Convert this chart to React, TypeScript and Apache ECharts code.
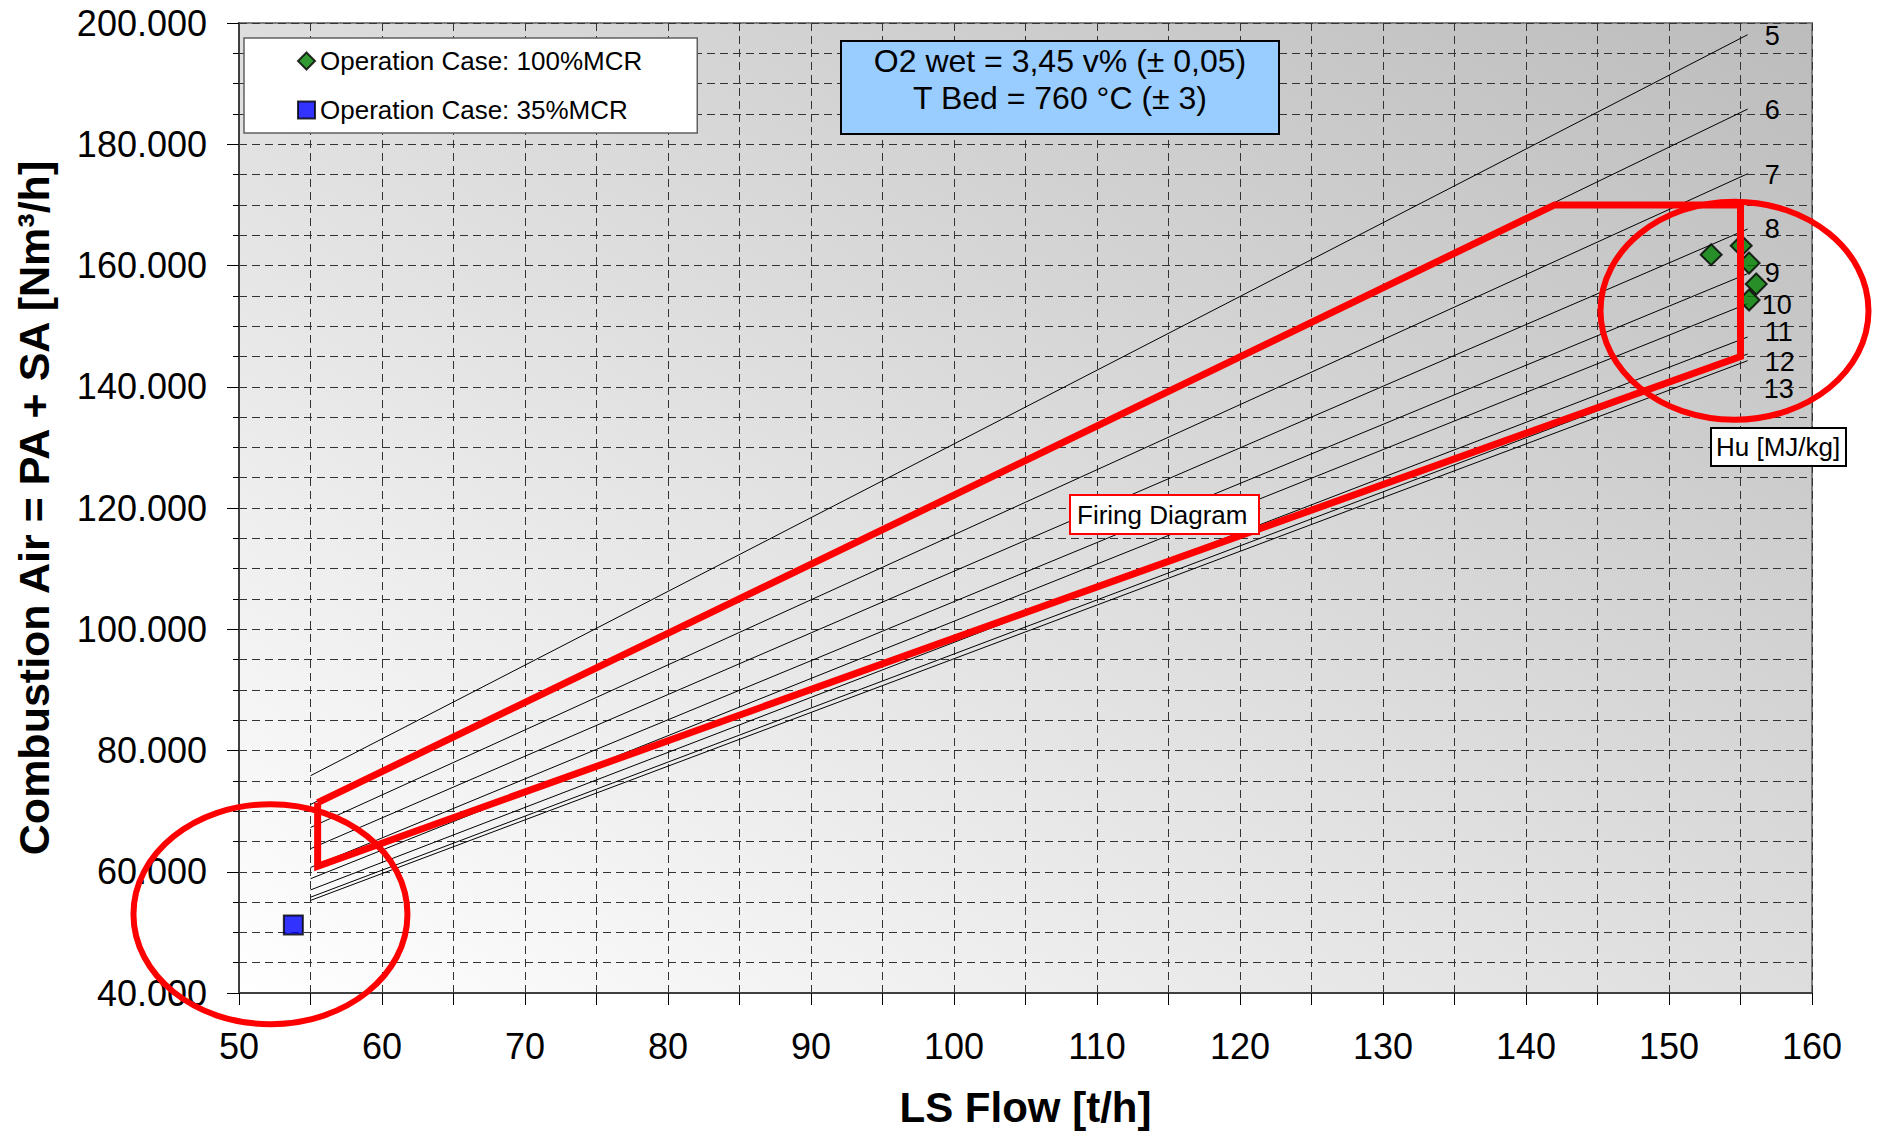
import React, { useEffect, useRef } from 'react';
import * as echarts from 'echarts';

// ---- data ----
const huLabels = ['5', '6', '7', '8', '9', '10', '11', '12', '13'];
const huStartX = 55;
const huEndX = 155.5;
const huStartY = [75840, 71100, 67300, 63800, 60700, 58850, 57000, 55800, 55270];
const huEndY = [198070, 185800, 175140, 166020, 158650, 153700, 148200, 145400, 144300];

const firingX = [55.5, 142, 155, 155, 55.5, 55.5];
const firingY = [71400, 170000, 170000, 145000, 60900, 71400];

const case100X = [152.95, 155.05, 155.6, 156.1, 155.6];
const case100Y = [161780, 163270, 160410, 156950, 154310];
const case35X = [53.8];
const case35Y = [51230];

const circleCentersX = [154.58, 52.2];
const circleCentersY = [152545, 53000];

const name100 = 'Operation Case: 100%MCR';
const name35 = 'Operation Case: 35%MCR';

// ---- styles ----
const FONT = 'Liberation Sans, Arial, sans-serif';
const huLabelOffset: number[][] = [[0, 1], [0, 1], [0, 1], [0, 0], [0, -1], [-3, 1], [0, -5], [0, 8], [-1, 28]];
const dash = [8, 5];
const gridColor = '#333333';

export default function App() {
  const ref = useRef<HTMLDivElement>(null);
  useEffect(() => {
    if (!ref.current) return;
    const chart = echarts.init(ref.current, undefined, { renderer: 'svg' });

    const huSeries = huLabels.map((lab, i) => ({
      type: 'line',
      name: 'Hu ' + lab,
      data: [[huStartX, huStartY[i]], [huEndX, huEndY[i]]],
      symbol: 'none',
      silent: true,
      lineStyle: { color: '#000', width: 1 },
      emphasis: { disabled: true },
      endLabel: {
        show: true,
        formatter: lab,
        distance: 17,
        offset: huLabelOffset[i],
        fontSize: 27,
        lineHeight: 20,
        fontFamily: FONT,
        color: '#000',
      },
      z: 2,
    }));

    const option: any = {
      animation: false,
      backgroundColor: '#ffffff',
      textStyle: { fontFamily: FONT },
      grid: {
        left: 239,
        right: 70,
        top: 23,
        bottom: 139,
        containLabel: false,
        outerBoundsMode: 'none',
        show: true,
        backgroundColor: new echarts.graphic.LinearGradient(0, 1, 1, 0, [
          { offset: 0, color: '#ffffff' },
          { offset: 1, color: '#bcbcbc' },
        ]),
        borderColor: '#808080',
        borderWidth: 2,
      },
      legend: {
        show: true,
        left: 244,
        top: 38,
        orient: 'vertical',
        data: [name100, name35],
        backgroundColor: '#ffffff',
        borderColor: '#606060',
        borderWidth: 1.5,
        padding: [10, 55, 10, 53],
        itemGap: 23,
        itemWidth: 17,
        itemHeight: 17,
        selectedMode: false,
        textStyle: { fontSize: 26, lineHeight: 26, color: '#000', fontFamily: FONT },
      },
      xAxis: {
        type: 'value',
        min: 50,
        max: 160,
        interval: 10,
        name: 'LS Flow [t/h]',
        nameLocation: 'middle',
        nameGap: 93,
        nameTextStyle: { fontSize: 42, lineHeight: 42, fontWeight: 'bold', color: '#000', fontFamily: FONT },
        axisLine: { show: true, onZero: false, lineStyle: { color: '#404040', width: 2 } },
        axisTick: { show: true, inside: false, length: 12, lineStyle: { color: '#000' } },
        minorTick: { show: true, splitNumber: 2, length: 12, lineStyle: { color: '#000' } },
        axisLabel: { fontSize: 36, color: '#000', margin: 35, fontFamily: FONT },
        splitLine: { show: true, lineStyle: { color: gridColor, width: 1, type: dash } },
        minorSplitLine: { show: true, lineStyle: { color: gridColor, width: 1, type: dash } },
      },
      yAxis: {
        type: 'value',
        min: 40000,
        max: 200000,
        interval: 20000,
        name: 'Combustion Air = PA + SA [Nm³/h]',
        nameLocation: 'middle',
        nameGap: 184,
        nameTextStyle: { fontSize: 43, fontWeight: 'bold', color: '#000', fontFamily: FONT },
        axisLine: { show: true, onZero: false, lineStyle: { color: '#404040', width: 2 } },
        axisTick: { show: true, inside: false, length: 12, lineStyle: { color: '#000' } },
        minorTick: { show: true, splitNumber: 4, length: 6, lineStyle: { color: '#000' } },
        axisLabel: {
          fontSize: 36,
          color: '#000',
          margin: 32,
          fontFamily: FONT,
          formatter: (v: number) => Math.round(v / 1000) + '.000',
        },
        splitLine: { show: true, lineStyle: { color: gridColor, width: 1, type: dash } },
        minorSplitLine: { show: true, lineStyle: { color: gridColor, width: 1, type: dash } },
      },
      series: [
        ...huSeries,
        {
          type: 'scatter',
          name: name100,
          data: case100X.map((x, i) => [x, case100Y[i]]),
          symbol: 'diamond',
          symbolSize: 21,
          itemStyle: { color: '#008000', borderColor: '#000', borderWidth: 2 },
          emphasis: { disabled: true },
          z: 3,
        },
        {
          type: 'scatter',
          name: name35,
          data: case35X.map((x, i) => [x, case35Y[i]]),
          symbol: 'rect',
          symbolSize: 19,
          itemStyle: { color: '#0000ff', borderColor: '#000', borderWidth: 2 },
          emphasis: { disabled: true },
          z: 3,
        },
        {
          type: 'line',
          name: 'Firing Diagram',
          data: firingX.map((x, i) => [x, firingY[i]]),
          symbol: 'none',
          silent: true,
          lineStyle: { color: '#ff0000', width: 7, join: 'miter' },
          emphasis: { disabled: true },
          z: 4,
        },
      ],
    };

    chart.setOption(option);

    const c1 = chart.convertToPixel({ gridIndex: 0 }, [circleCentersX[0], circleCentersY[0]]) as number[];
    const c2 = chart.convertToPixel({ gridIndex: 0 }, [circleCentersX[1], circleCentersY[1]]) as number[];

    chart.setOption({
      graphic: [
        {
          type: 'ellipse',
          shape: { cx: c1[0], cy: c1[1], rx: 134, ry: 109 },
          style: { fill: 'none', stroke: '#ff0000', lineWidth: 6 },
          z: 100,
          silent: true,
        },
        {
          type: 'ellipse',
          shape: { cx: c2[0], cy: c2[1], rx: 137, ry: 110 },
          style: { fill: 'none', stroke: '#ff0000', lineWidth: 6 },
          z: 100,
          silent: true,
        },
        {
          type: 'rect',
          shape: { x: 841, y: 41, width: 438, height: 93 },
          style: { fill: '#99ccff', stroke: '#000', lineWidth: 2 },
          z: 90,
          silent: true,
        },
        {
          type: 'text',
          x: 1060,
          y: 61,
          style: { text: 'O2 wet = 3,45 v% (± 0,05)', font: '32px ' + FONT, fill: '#000', align: 'center', verticalAlign: 'middle' },
          z: 91,
          silent: true,
        },
        {
          type: 'text',
          x: 1060,
          y: 98,
          style: { text: 'T Bed = 760 °C (± 3)', font: '32px ' + FONT, fill: '#000', align: 'center', verticalAlign: 'middle' },
          z: 91,
          silent: true,
        },
        {
          type: 'rect',
          shape: { x: 1070, y: 495, width: 189, height: 39 },
          style: { fill: '#ffffff', stroke: '#ff0000', lineWidth: 2 },
          z: 90,
          silent: true,
        },
        {
          type: 'text',
          x: 1077,
          y: 515,
          style: { text: 'Firing Diagram', font: '26px ' + FONT, fill: '#000', align: 'left', verticalAlign: 'middle' },
          z: 91,
          silent: true,
        },
        {
          type: 'rect',
          shape: { x: 1711, y: 428, width: 135, height: 38 },
          style: { fill: '#ffffff', stroke: '#000', lineWidth: 2 },
          z: 90,
          silent: true,
        },
        {
          type: 'text',
          x: 1716,
          y: 447,
          style: { text: 'Hu [MJ/kg]', font: '26px ' + FONT, fill: '#000', align: 'left', verticalAlign: 'middle' },
          z: 91,
          silent: true,
        },
      ],
    });

    return () => {
      chart.dispose();
    };
  }, []);

  return (
    <div
      ref={ref}
      style={{ position: 'absolute', left: 0, top: 0, width: 1882, height: 1132 }}
    />
  );
}
